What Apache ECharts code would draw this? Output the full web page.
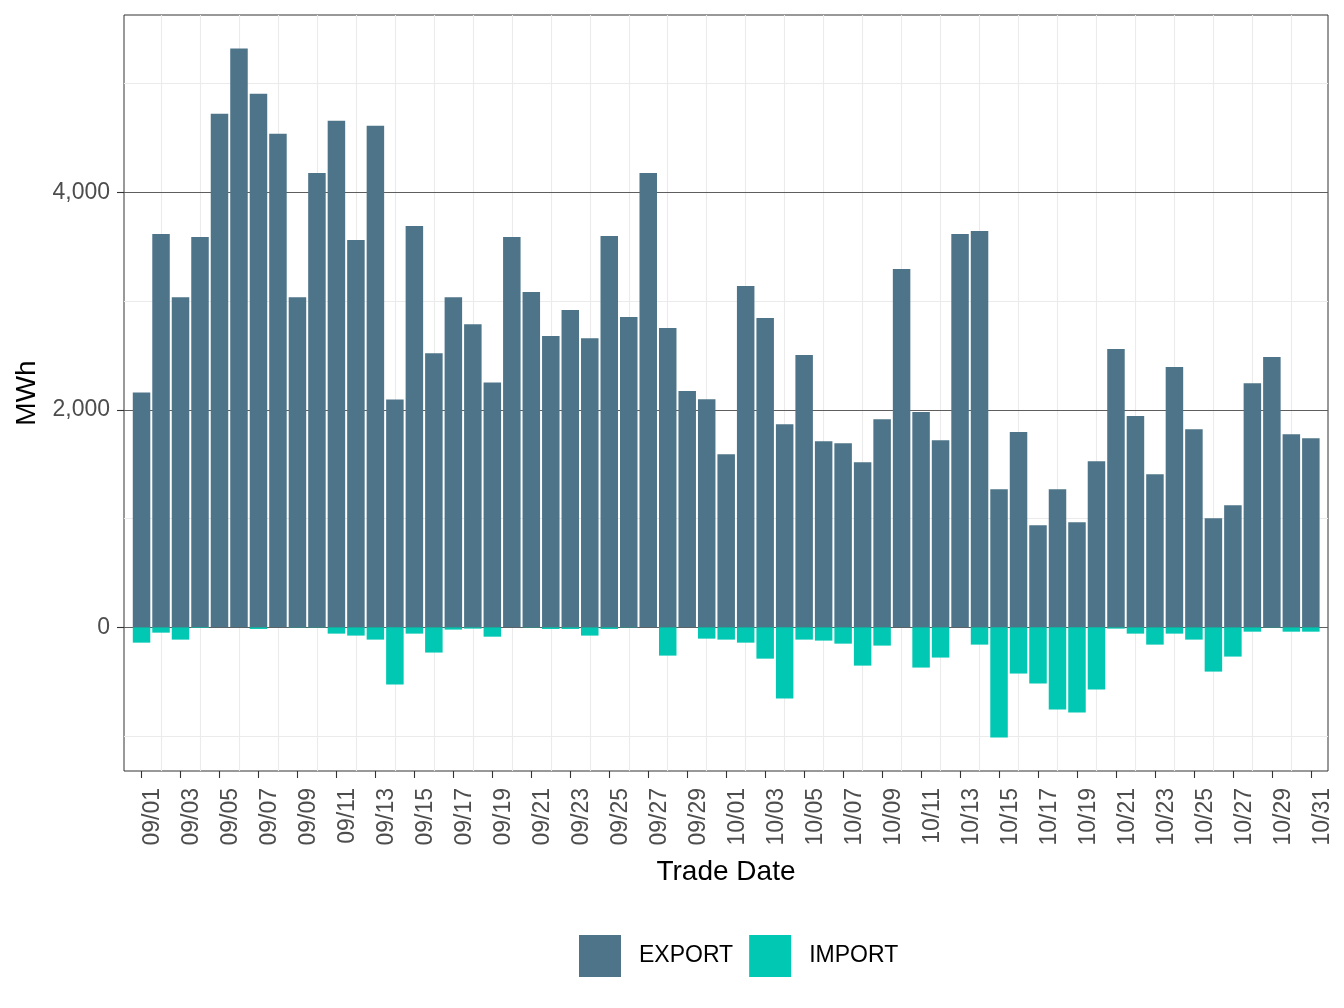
<!DOCTYPE html>
<html>
<head>
<meta charset="utf-8">
<script src="https://cdn.jsdelivr.net/npm/echarts@6/dist/echarts.min.js"></script>
<style>
html,body{margin:0;padding:0;background:#fff;}
#chart{width:1344px;height:1008px;}
</style>
</head>
<body>
<div id="chart"></div>
<script>
var dates = ['09/01','09/02','09/03','09/04','09/05','09/06','09/07','09/08','09/09','09/10',
'09/11','09/12','09/13','09/14','09/15','09/16','09/17','09/18','09/19','09/20',
'09/21','09/22','09/23','09/24','09/25','09/26','09/27','09/28','09/29','09/30',
'10/01','10/02','10/03','10/04','10/05','10/06','10/07','10/08','10/09','10/10',
'10/11','10/12','10/13','10/14','10/15','10/16','10/17','10/18','10/19','10/20',
'10/21','10/22','10/23','10/24','10/25','10/26','10/27','10/28','10/29','10/30','10/31'];

var exportVals = [2160,3616,3035,3588,4722,5321,4906,4538,3035,4178,
4657,3561,4611,2095,3690,2519,3035,2786,2252,3588,
3082,2678,2917,2659,3598,2853,4178,2751,2172,2098,
1592,3138,2843,1868,2503,1712,1693,1518,1914,3294,
1979,1721,3616,3644,1270,1795,939,1270,966,1528,
2558,1942,1408,2393,1822,1003,1123,2245,2485,1776,1739];

var importVals = [-141,-49,-113,-6,0,0,-15,0,-3,-3,
-58,-76,-113,-526,-58,-232,-21,-12,-86,0,
-3,-15,-15,-76,-15,-3,0,-260,0,-104,
-113,-141,-288,-655,-113,-122,-150,-352,-168,0,
-370,-278,0,-159,-1012,-425,-517,-755,-783,-572,
-12,-58,-159,-58,-113,-407,-269,-40,-3,-40,-40];

var yMajor = [0, 2000, 4000];
var yMinor = [-1000, 1000, 3000, 5000];
var seriesNames = ['EXPORT', 'IMPORT'];
var colors = ['#4e7489', '#00c8b3'];

var FONT = 'Liberation Sans';
var xLabelIdx = [], xGridIdx = [];
for (var i = 0; i < dates.length; i++) {
  if (i % 2 === 0) xLabelIdx.push(i); else xGridIdx.push(i);
}

function pairs(arr) { return arr.map(function (v, i) { return [i, v]; }); }
function fmt(v) { return String(v).replace(/\B(?=(\d{3})+(?!\d))/g, ','); }

var gridLines = [];
yMinor.forEach(function (v) { gridLines.push({ yAxis: v, lineStyle: { color: '#ebebeb', width: 1.1, type: 'solid' } }); });
xGridIdx.forEach(function (v) { gridLines.push({ xAxis: v, lineStyle: { color: '#ebebeb', width: 1.1, type: 'solid' } }); });
yMajor.forEach(function (v) { gridLines.push({ yAxis: v, lineStyle: { color: '#5e5e5e', width: 1, type: 'solid' } }); });

var chart = echarts.init(document.getElementById('chart'), null, { renderer: 'canvas' });
chart.setOption({
  animation: false,
  backgroundColor: '#ffffff',
  textStyle: { fontFamily: FONT },
  grid: { left: 124, top: 15, width: 1204, height: 756, show: true, borderColor: '#333333', borderWidth: 1, backgroundColor: 'transparent', containLabel: false, z: 0 },
  legend: {
    data: seriesNames,
    icon: 'rect',
    itemWidth: 42, itemHeight: 42,
    left: 574, top: 930,
    itemGap: 16,
    textStyle: { fontSize: 23, color: '#000000', fontFamily: FONT, padding: [0, 0, 0, 13] }
  },
  xAxis: {
    type: 'value',
    min: -0.9, max: 60.88,
    name: 'Trade Date',
    nameLocation: 'middle',
    nameGap: 87,
    nameTextStyle: { fontSize: 28, color: '#000000', fontFamily: FONT },
    axisLine: { show: false, onZero: false },
    splitLine: { show: false },
    axisTick: { show: true, length: 7, lineStyle: { color: '#333333', width: 1.1 }, customValues: xLabelIdx },
    axisLabel: {
      customValues: xLabelIdx,
      rotate: 90, margin: 17, fontSize: 23, color: '#4d4d4d', fontFamily: FONT,
      verticalAlign: 'top',
      formatter: function (v) { return dates[Math.round(v)] || ''; }
    }
  },
  yAxis: {
    type: 'value',
    min: -1321, max: 5630,
    name: 'MWh',
    nameLocation: 'middle',
    nameRotate: 90,
    nameGap: 82,
    nameTextStyle: { fontSize: 28, color: '#000000', fontFamily: FONT },
    axisLine: { show: false, onZero: false },
    splitLine: { show: false },
    axisTick: { show: true, length: 7, lineStyle: { color: '#333333', width: 1.1 }, customValues: yMajor },
    axisLabel: { customValues: yMajor, margin: 14, fontSize: 23, color: '#4d4d4d', fontFamily: FONT, formatter: function (v) { return fmt(v); } }
  },
  series: [
    {
      name: 'grid', type: 'line', data: [], z: 1, silent: true,
      markLine: { z: 1, zlevel: 0, silent: true, symbol: 'none', label: { show: false }, animation: false, data: gridLines }
    },
    {
      name: seriesNames[0], type: 'bar', data: pairs(exportVals), barWidth: 17.5, barGap: '-100%', z: 3,
      itemStyle: { color: colors[0] }
    },
    {
      name: seriesNames[1], type: 'bar', data: pairs(importVals), barWidth: 17.5, barGap: '-100%', z: 3,
      itemStyle: { color: colors[1] }
    }
  ]
});
</script>
</body>
</html>
